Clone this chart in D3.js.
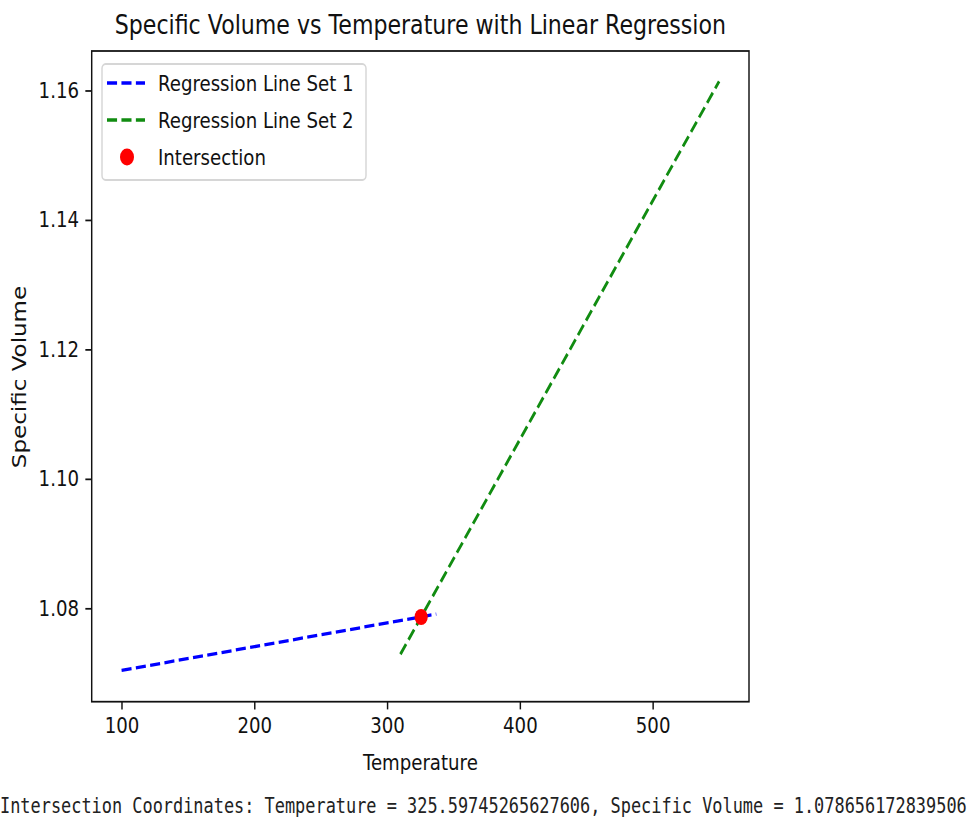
<!DOCTYPE html>
<html>
<head>
<meta charset="utf-8">
<script src="https://cdn.jsdelivr.net/npm/d3@7"></script>
<style>
  body { margin: 0; background: #fff; }
</style>
</head>
<body>
<div id="chart"></div>
<script>
// ---------------------- data ----------------------
var set1Temp = [100, 337];
var set1Vol = [1.0704, 1.0791];
var set2Temp = [310, 550];
var set2Vol = [1.0729, 1.1614];
var crossTemp = 325.59745265627606;
var crossVol = 1.078656172839506;
var xTicks = [100, 200, 300, 400, 500];
var yTicks = [1.08, 1.10, 1.12, 1.14, 1.16];
var seriesNames = ["Regression Line Set 1", "Regression Line Set 2", "Intersection"];

// the original picture is squeezed horizontally, so draw wide and scale x
var sx = 0.825;
var W = 973, H = 823;
var plotLeft = 91.7 / sx, plotRight = 749 / sx, plotTop = 51, plotBottom = 701.7;
var fontMain = "DejaVu Sans, sans-serif";

var svg = d3.select("#chart")
     .append("svg")
     .attr("width", W)
     .attr("height", H);

var g = svg.append("g").attr("transform", "scale(" + sx + ",1)");

var x = d3.scaleLinear().domain([77.5, 572.5]).range([plotLeft, plotRight]);
var y = d3.scaleLinear().domain([1.06557, 1.1661]).range([plotBottom, plotTop]);

// ---------------------- title ----------------------
g.append("text")
     .text("Specific Volume vs Temperature with Linear Regression")
     .attr("x", (plotLeft + plotRight) / 2)
     .attr("y", 34)
     .attr("text-anchor", "middle")
     .style("font-family", fontMain)
     .style("font-size", "26.8px")
     .style("fill", "#111");

// ---------------------- axes ----------------------
var xAxis = g.append("g")
     .attr("transform", "translate(0," + plotBottom + ")")
     .call(d3.axisBottom(x).tickValues(xTicks).tickSize(7.7).tickPadding(7.7));
var yAxis = g.append("g")
     .attr("transform", "translate(" + plotLeft + ",0)")
     .call(d3.axisLeft(y).tickValues(yTicks).tickFormat(d3.format(".2f")).tickSize(7.7).tickPadding(7.7));

[xAxis, yAxis].forEach(function (a) {
     a.select(".domain").remove();
     a.selectAll(".tick line").attr("stroke", "#111").attr("stroke-width", 1.76);
     a.selectAll(".tick text")
          .style("font-family", fontMain)
          .style("font-size", "22px")
          .attr("fill", "#111");
});

g.append("rect")
     .attr("x", plotLeft)
     .attr("y", plotTop)
     .attr("width", plotRight - plotLeft)
     .attr("height", plotBottom - plotTop)
     .attr("fill", "none")
     .attr("stroke", "#111")
     .attr("stroke-width", 1.76);

g.append("text")
     .text("Temperature")
     .attr("x", (plotLeft + plotRight) / 2)
     .attr("y", 770)
     .attr("text-anchor", "middle")
     .style("font-family", fontMain)
     .style("font-size", "22px")
     .style("fill", "#111");

g.append("text")
     .text("Specific Volume")
     .attr("transform", "translate(" + (26 / sx) + "," + 377 + ") rotate(-90)")
     .attr("text-anchor", "middle")
     .style("font-family", fontMain)
     .style("font-size", "23px")
     .style("fill", "#111");

// ---------------------- regression lines + intersection ----------------------
var line = d3.line()
     .x(function (d) { return x(d[0]); })
     .y(function (d) { return y(d[1]); });

g.append("path")
     .datum(d3.zip(set1Temp, set1Vol))
     .attr("d", line)
     .attr("fill", "none")
     .attr("stroke", "#0000ff")
     .attr("stroke-width", 3.3)
     .attr("stroke-dasharray", "12.2,5.3");

g.append("path")
     .datum(d3.zip(set2Temp, set2Vol))
     .attr("d", line)
     .attr("fill", "none")
     .attr("stroke", "#118c11")
     .attr("stroke-width", 3.3)
     .attr("stroke-dasharray", "12.2,5.3");

g.append("circle")
     .attr("cx", x(crossTemp))
     .attr("cy", y(crossVol))
     .attr("r", 8)
     .attr("fill", "#ff0000");

// ---------------------- legend ----------------------
var legend = g.append("g");
legend.append("rect")
     .attr("x", 102 / sx)
     .attr("y", 64)
     .attr("width", (366 - 102) / sx)
     .attr("height", 116)
     .attr("rx", 4.4)
     .attr("fill", "#fff")
     .attr("fill-opacity", 0.8)
     .attr("stroke", "#d6d6d6")
     .attr("stroke-width", 1.76);

var rowY = [83, 120, 157];
var rowColor = ["#0000ff", "#118c11", "#ff0000"];
seriesNames.forEach(function (name, i) {
     if (i < 2) {
          legend.append("line")
               .attr("x1", 107 / sx).attr("x2", 145 / sx)
               .attr("y1", rowY[i]).attr("y2", rowY[i])
               .attr("stroke", rowColor[i])
               .attr("stroke-width", 3.3)
               .attr("stroke-dasharray", "12.2,5.3");
     } else {
          legend.append("circle")
               .attr("cx", 127 / sx)
               .attr("cy", rowY[i])
               .attr("r", 8.5)
               .attr("fill", rowColor[i]);
     }
     legend.append("text")
          .text(name)
          .attr("x", 158 / sx)
          .attr("y", rowY[i])
          .attr("dy", "0.36em")
          .style("font-family", fontMain)
          .style("font-size", "22px")
          .style("fill", "#111");
});

// ---------------------- printed output below the figure ----------------------
g.append("text")
     .text("Intersection Coordinates: Temperature = " + crossTemp + ", Specific Volume = " + crossVol)
     .attr("x", 0)
     .attr("y", 813)
     .style("font-family", "DejaVu Sans Mono, monospace")
     .style("font-size", "20.5px")
     .style("fill", "#222");
</script>
</body>
</html>
